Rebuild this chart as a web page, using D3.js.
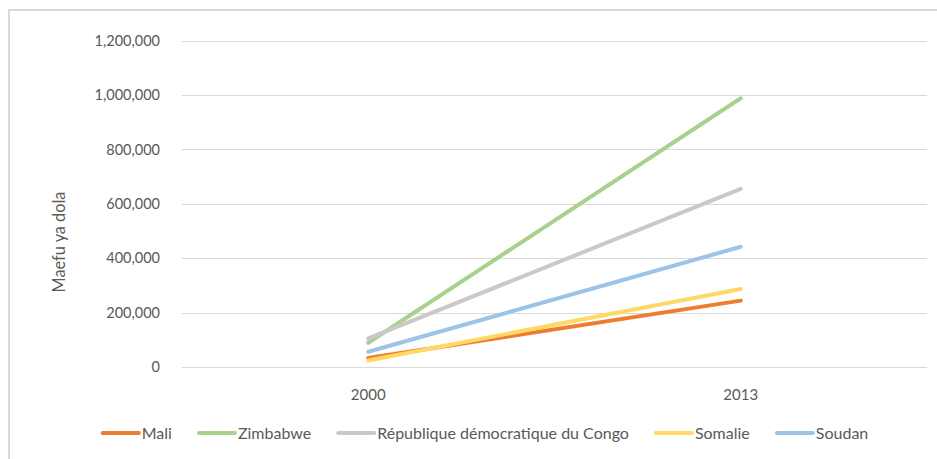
<!DOCTYPE html>
<html><head><meta charset="utf-8">
<script src="https://cdn.jsdelivr.net/npm/d3@7"></script>
<style>body{margin:0;background:#fff}svg{display:block}</style>
</head><body>
<svg id="c" width="937" height="459"></svg>
<script>
const categories = ["2000", "2013"];
const seriesNames = ["Mali", "Zimbabwe", "République démocratique du Congo", "Somalie", "Soudan"];
const mali = [33000, 244000];
const zimbabwe = [89000, 988000];
const rdc = [105000, 655000];
const somalie = [24000, 287000];
const soudan = [56000, 442000];
const yTicks = [0, 200000, 400000, 600000, 800000, 1000000, 1200000];
const colors = ["#ED7D31", "#A9D18E", "#C9C9C9", "#FFD966", "#9DC3E6"];
const seriesValues = [mali, zimbabwe, rdc, somalie, soudan];

const font = "Lato, 'Open Sans', sans-serif";
const svg = d3.select("#c");
// outer frame
svg.append("rect").attr("x", 9).attr("y", 10).attr("width", 940).attr("height", 460)
  .attr("fill", "none").attr("stroke", "#D9D9D9").attr("stroke-width", 2);

const x = d3.scaleBand().domain(categories).range([182, 927]);
const y = d3.scaleLinear().domain([0, 1200000]).range([367, 40.6]);

// gridlines
svg.append("g").selectAll("line").data(yTicks).join("line")
  .attr("x1", 182).attr("x2", 927)
  .attr("y1", d => Math.round(y(d)) + 0.5).attr("y2", d => Math.round(y(d)) + 0.5)
  .attr("stroke", "#D9D9D9").attr("stroke-width", 1);

// y axis labels
const yAxis = svg.append("g").attr("transform", "translate(160,0)")
  .call(d3.axisLeft(y).tickValues(yTicks).tickSize(0).tickPadding(0).tickFormat(d3.format(",")));
yAxis.select(".domain").remove();
yAxis.selectAll("text").attr("font-family", font).attr("font-size", 14.5).attr("fill", "#595959");

// x axis labels
const xAxis = svg.append("g").attr("transform", "translate(0,367)")
  .call(d3.axisBottom(x).tickSize(0).tickPadding(22));
xAxis.select(".domain").remove();
xAxis.selectAll("text").attr("font-family", font).attr("font-size", 15).attr("fill", "#595959");

// y title
svg.append("text").attr("transform", "translate(65,242) rotate(-90)")
  .attr("text-anchor", "middle").attr("font-family", font).attr("font-size", 16.3)
  .attr("fill", "#595959").text("Maefu ya dola");

// lines
const line = d3.line().x((d, i) => x(categories[i]) + x.bandwidth() / 2).y(d => y(d));
svg.append("g").selectAll("path").data(seriesValues).join("path")
  .attr("d", d => line(d)).attr("fill", "none")
  .attr("stroke", (d, i) => colors[i]).attr("stroke-width", 4).attr("stroke-linecap", "round");

// legend
const lg = svg.append("g");
const items = lg.selectAll("g").data(seriesNames).join("g");
items.append("line").attr("x1", 0).attr("x2", 36).attr("y1", 0).attr("y2", 0)
  .attr("stroke", (d, i) => colors[i]).attr("stroke-width", 4).attr("stroke-linecap", "round");
items.append("text").attr("x", 39).attr("y", 5.5).attr("font-family", font).attr("font-size", 16)
  .attr("fill", "#595959").text(d => d);
let cx = 0;
const offs = [];
items.each(function () {
  offs.push(cx);
  const w = d3.select(this).select("text").node().getComputedTextLength();
  cx += 39 + w + 27;
});
const total = cx - 27;
const start = 485.5 - total / 2;
items.attr("transform", (d, i) => `translate(${start + offs[i]},433)`);
</script>
</body></html>
